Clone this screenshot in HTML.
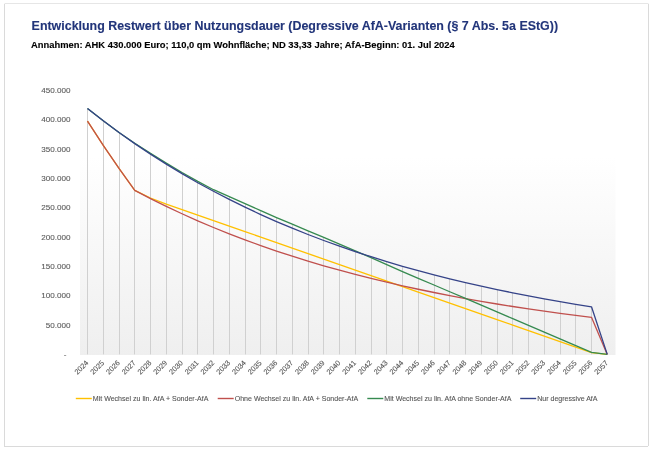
<!DOCTYPE html><html><head><meta charset="utf-8"><style>html,body{margin:0;padding:0;background:#fff;width:652px;height:450px;overflow:hidden}svg{display:block;will-change:transform}text{font-family:"Liberation Sans",sans-serif}</style></head><body>
<svg width="652" height="450" viewBox="0 0 652 450">
<defs><linearGradient id="pg" x1="0" y1="0" x2="0" y2="1"><stop offset="0" stop-color="#ffffff"/><stop offset="0.25" stop-color="#ffffff"/><stop offset="1" stop-color="#efefef"/></linearGradient></defs>
<rect x="0" y="0" width="652" height="450" fill="#fff"/>
<line x1="4.5" y1="3.5" x2="648.5" y2="3.5" stroke="#e6e6e6" stroke-width="1"/>
<line x1="4.5" y1="4" x2="4.5" y2="446.5" stroke="#dadada" stroke-width="1"/>
<line x1="648.5" y1="4" x2="648.5" y2="446" stroke="#dadada" stroke-width="1"/>
<line x1="4" y1="446.5" x2="648" y2="446.5" stroke="#dadada" stroke-width="1"/>
<text x="31.6" y="29.9" font-size="12.43" font-weight="bold" fill="#22357a" stroke="#22357a" stroke-width="0.12">Entwicklung Restwert über Nutzungsdauer (Degressive AfA-Varianten (§ 7 Abs. 5a EStG))</text>
<text x="31.0" y="48.1" font-size="9.4" font-weight="bold" fill="#000" stroke="#000" stroke-width="0.12">Annahmen: AHK 430.000 Euro; 110,0 qm Wohnfläche; ND 33,33 Jahre; AfA-Beginn: 01. Jul 2024</text>
<rect x="80" y="90.5" width="535.5" height="264.5" fill="url(#pg)"/>
<text x="66.4" y="356.90" font-size="8.1" fill="#5a5a5a" stroke="#5a5a5a" stroke-width="0.1" text-anchor="end">-</text>
<text x="70.6" y="327.58" font-size="8.1" fill="#5a5a5a" stroke="#5a5a5a" stroke-width="0.1" text-anchor="end">50.000</text>
<text x="70.6" y="298.26" font-size="8.1" fill="#5a5a5a" stroke="#5a5a5a" stroke-width="0.1" text-anchor="end">100.000</text>
<text x="70.6" y="268.93" font-size="8.1" fill="#5a5a5a" stroke="#5a5a5a" stroke-width="0.1" text-anchor="end">150.000</text>
<text x="70.6" y="239.61" font-size="8.1" fill="#5a5a5a" stroke="#5a5a5a" stroke-width="0.1" text-anchor="end">200.000</text>
<text x="70.6" y="210.29" font-size="8.1" fill="#5a5a5a" stroke="#5a5a5a" stroke-width="0.1" text-anchor="end">250.000</text>
<text x="70.6" y="180.97" font-size="8.1" fill="#5a5a5a" stroke="#5a5a5a" stroke-width="0.1" text-anchor="end">300.000</text>
<text x="70.6" y="151.64" font-size="8.1" fill="#5a5a5a" stroke="#5a5a5a" stroke-width="0.1" text-anchor="end">350.000</text>
<text x="70.6" y="122.32" font-size="8.1" fill="#5a5a5a" stroke="#5a5a5a" stroke-width="0.1" text-anchor="end">400.000</text>
<text x="70.6" y="93.00" font-size="8.1" fill="#5a5a5a" stroke="#5a5a5a" stroke-width="0.1" text-anchor="end">450.000</text>
<line x1="87.50" y1="108.53" x2="87.50" y2="354.4" stroke="#d0d0d0" stroke-width="1"/>
<line x1="103.50" y1="120.83" x2="103.50" y2="354.4" stroke="#d0d0d0" stroke-width="1"/>
<line x1="119.50" y1="132.51" x2="119.50" y2="354.4" stroke="#d0d0d0" stroke-width="1"/>
<line x1="134.50" y1="143.19" x2="134.50" y2="354.4" stroke="#d0d0d0" stroke-width="1"/>
<line x1="150.50" y1="153.38" x2="150.50" y2="354.4" stroke="#d0d0d0" stroke-width="1"/>
<line x1="166.50" y1="163.16" x2="166.50" y2="354.4" stroke="#d0d0d0" stroke-width="1"/>
<line x1="182.50" y1="172.49" x2="182.50" y2="354.4" stroke="#d0d0d0" stroke-width="1"/>
<line x1="197.50" y1="181.35" x2="197.50" y2="354.4" stroke="#d0d0d0" stroke-width="1"/>
<line x1="213.50" y1="189.70" x2="213.50" y2="354.4" stroke="#d0d0d0" stroke-width="1"/>
<line x1="229.50" y1="196.67" x2="229.50" y2="354.4" stroke="#d0d0d0" stroke-width="1"/>
<line x1="245.50" y1="203.64" x2="245.50" y2="354.4" stroke="#d0d0d0" stroke-width="1"/>
<line x1="260.50" y1="210.61" x2="260.50" y2="354.4" stroke="#d0d0d0" stroke-width="1"/>
<line x1="276.50" y1="217.58" x2="276.50" y2="354.4" stroke="#d0d0d0" stroke-width="1"/>
<line x1="292.50" y1="224.22" x2="292.50" y2="354.4" stroke="#d0d0d0" stroke-width="1"/>
<line x1="308.50" y1="230.83" x2="308.50" y2="354.4" stroke="#d0d0d0" stroke-width="1"/>
<line x1="323.50" y1="237.44" x2="323.50" y2="354.4" stroke="#d0d0d0" stroke-width="1"/>
<line x1="339.50" y1="244.11" x2="339.50" y2="354.4" stroke="#d0d0d0" stroke-width="1"/>
<line x1="355.50" y1="250.84" x2="355.50" y2="354.4" stroke="#d0d0d0" stroke-width="1"/>
<line x1="371.50" y1="256.74" x2="371.50" y2="354.4" stroke="#d0d0d0" stroke-width="1"/>
<line x1="386.50" y1="261.62" x2="386.50" y2="354.4" stroke="#d0d0d0" stroke-width="1"/>
<line x1="402.50" y1="266.26" x2="402.50" y2="354.4" stroke="#d0d0d0" stroke-width="1"/>
<line x1="418.50" y1="270.67" x2="418.50" y2="354.4" stroke="#d0d0d0" stroke-width="1"/>
<line x1="434.50" y1="274.85" x2="434.50" y2="354.4" stroke="#d0d0d0" stroke-width="1"/>
<line x1="449.50" y1="278.83" x2="449.50" y2="354.4" stroke="#d0d0d0" stroke-width="1"/>
<line x1="465.50" y1="282.61" x2="465.50" y2="354.4" stroke="#d0d0d0" stroke-width="1"/>
<line x1="481.50" y1="286.20" x2="481.50" y2="354.4" stroke="#d0d0d0" stroke-width="1"/>
<line x1="497.50" y1="289.61" x2="497.50" y2="354.4" stroke="#d0d0d0" stroke-width="1"/>
<line x1="512.50" y1="292.85" x2="512.50" y2="354.4" stroke="#d0d0d0" stroke-width="1"/>
<line x1="528.50" y1="295.93" x2="528.50" y2="354.4" stroke="#d0d0d0" stroke-width="1"/>
<line x1="544.50" y1="298.85" x2="544.50" y2="354.4" stroke="#d0d0d0" stroke-width="1"/>
<line x1="560.50" y1="301.63" x2="560.50" y2="354.4" stroke="#d0d0d0" stroke-width="1"/>
<line x1="575.50" y1="304.27" x2="575.50" y2="354.4" stroke="#d0d0d0" stroke-width="1"/>
<line x1="591.50" y1="306.77" x2="591.50" y2="354.4" stroke="#d0d0d0" stroke-width="1"/>
<polyline points="87.50,121.14 103.25,145.41 119.00,168.47 134.75,190.38 150.50,197.99 166.25,204.08 182.00,209.58 197.75,215.08 213.50,220.58 229.25,226.08 245.00,231.58 260.75,237.08 276.50,242.58 292.25,248.08 308.00,253.58 323.75,259.08 339.50,264.58 355.25,270.08 371.00,275.58 386.75,281.08 402.50,286.58 418.25,292.08 434.00,297.58 449.75,303.08 465.50,308.58 481.25,314.08 497.00,319.58 512.75,325.08 528.50,330.58 544.25,336.08 560.00,341.58 575.75,347.08 591.50,352.58 607.25,354.40" fill="none" stroke="#ffc000" stroke-width="1.3" stroke-linejoin="round"/>
<polyline points="87.50,121.14 103.25,145.41 119.00,168.47 134.75,190.38 150.50,198.58 166.25,206.37 182.00,213.77 197.75,220.80 213.50,227.48 229.25,233.83 245.00,239.86 260.75,245.58 276.50,251.02 292.25,256.19 308.00,261.10 323.75,265.77 339.50,270.20 355.25,274.41 371.00,278.41 386.75,282.21 402.50,285.82 418.25,289.25 434.00,292.50 449.75,295.60 465.50,298.54 481.25,301.33 497.00,303.99 512.75,306.51 528.50,308.90 544.25,311.18 560.00,313.34 575.75,315.39 591.50,317.34 607.25,354.40" fill="none" stroke="#c0504d" stroke-width="1.3" stroke-linejoin="round"/>
<polyline points="87.50,108.53 103.25,120.83 119.00,132.51 134.75,143.19 150.50,153.38 166.25,163.16 182.00,172.49 197.75,181.35 213.50,189.70 229.25,196.67 245.00,203.64 260.75,210.61 276.50,217.58 292.25,224.22 308.00,230.83 323.75,237.44 339.50,244.11 355.25,250.84 371.00,257.69 386.75,264.59 402.50,271.56 418.25,278.28 434.00,285.01 449.75,291.74 465.50,298.47 481.25,305.20 497.00,311.93 512.75,318.66 528.50,325.39 544.25,332.12 560.00,338.84 575.75,345.57 591.50,352.30 607.25,354.40" fill="none" stroke="#368a50" stroke-width="1.3" stroke-linejoin="round"/>
<polyline points="87.50,108.53 103.25,120.83 119.00,132.51 134.75,143.60 150.50,154.14 166.25,164.15 182.00,173.67 197.75,182.70 213.50,191.29 229.25,199.44 245.00,207.19 260.75,214.55 276.50,221.54 292.25,228.19 308.00,234.50 323.75,240.49 339.50,246.19 355.25,251.60 371.00,256.74 386.75,261.62 402.50,266.26 418.25,270.67 434.00,274.85 449.75,278.83 465.50,282.61 481.25,286.20 497.00,289.61 512.75,292.85 528.50,295.93 544.25,298.85 560.00,301.63 575.75,304.27 591.50,306.77 607.25,354.40" fill="none" stroke="#354388" stroke-width="1.3" stroke-linejoin="round"/>
<text transform="translate(89.00,363.40) rotate(-45)" font-size="7.35" fill="#555" stroke="#555" stroke-width="0.1" text-anchor="end">2024</text>
<text transform="translate(104.75,363.40) rotate(-45)" font-size="7.35" fill="#555" stroke="#555" stroke-width="0.1" text-anchor="end">2025</text>
<text transform="translate(120.50,363.40) rotate(-45)" font-size="7.35" fill="#555" stroke="#555" stroke-width="0.1" text-anchor="end">2026</text>
<text transform="translate(136.25,363.40) rotate(-45)" font-size="7.35" fill="#555" stroke="#555" stroke-width="0.1" text-anchor="end">2027</text>
<text transform="translate(152.00,363.40) rotate(-45)" font-size="7.35" fill="#555" stroke="#555" stroke-width="0.1" text-anchor="end">2028</text>
<text transform="translate(167.75,363.40) rotate(-45)" font-size="7.35" fill="#555" stroke="#555" stroke-width="0.1" text-anchor="end">2029</text>
<text transform="translate(183.50,363.40) rotate(-45)" font-size="7.35" fill="#555" stroke="#555" stroke-width="0.1" text-anchor="end">2030</text>
<text transform="translate(199.25,363.40) rotate(-45)" font-size="7.35" fill="#555" stroke="#555" stroke-width="0.1" text-anchor="end">2031</text>
<text transform="translate(215.00,363.40) rotate(-45)" font-size="7.35" fill="#555" stroke="#555" stroke-width="0.1" text-anchor="end">2032</text>
<text transform="translate(230.75,363.40) rotate(-45)" font-size="7.35" fill="#555" stroke="#555" stroke-width="0.1" text-anchor="end">2033</text>
<text transform="translate(246.50,363.40) rotate(-45)" font-size="7.35" fill="#555" stroke="#555" stroke-width="0.1" text-anchor="end">2034</text>
<text transform="translate(262.25,363.40) rotate(-45)" font-size="7.35" fill="#555" stroke="#555" stroke-width="0.1" text-anchor="end">2035</text>
<text transform="translate(278.00,363.40) rotate(-45)" font-size="7.35" fill="#555" stroke="#555" stroke-width="0.1" text-anchor="end">2036</text>
<text transform="translate(293.75,363.40) rotate(-45)" font-size="7.35" fill="#555" stroke="#555" stroke-width="0.1" text-anchor="end">2037</text>
<text transform="translate(309.50,363.40) rotate(-45)" font-size="7.35" fill="#555" stroke="#555" stroke-width="0.1" text-anchor="end">2038</text>
<text transform="translate(325.25,363.40) rotate(-45)" font-size="7.35" fill="#555" stroke="#555" stroke-width="0.1" text-anchor="end">2039</text>
<text transform="translate(341.00,363.40) rotate(-45)" font-size="7.35" fill="#555" stroke="#555" stroke-width="0.1" text-anchor="end">2040</text>
<text transform="translate(356.75,363.40) rotate(-45)" font-size="7.35" fill="#555" stroke="#555" stroke-width="0.1" text-anchor="end">2041</text>
<text transform="translate(372.50,363.40) rotate(-45)" font-size="7.35" fill="#555" stroke="#555" stroke-width="0.1" text-anchor="end">2042</text>
<text transform="translate(388.25,363.40) rotate(-45)" font-size="7.35" fill="#555" stroke="#555" stroke-width="0.1" text-anchor="end">2043</text>
<text transform="translate(404.00,363.40) rotate(-45)" font-size="7.35" fill="#555" stroke="#555" stroke-width="0.1" text-anchor="end">2044</text>
<text transform="translate(419.75,363.40) rotate(-45)" font-size="7.35" fill="#555" stroke="#555" stroke-width="0.1" text-anchor="end">2045</text>
<text transform="translate(435.50,363.40) rotate(-45)" font-size="7.35" fill="#555" stroke="#555" stroke-width="0.1" text-anchor="end">2046</text>
<text transform="translate(451.25,363.40) rotate(-45)" font-size="7.35" fill="#555" stroke="#555" stroke-width="0.1" text-anchor="end">2047</text>
<text transform="translate(467.00,363.40) rotate(-45)" font-size="7.35" fill="#555" stroke="#555" stroke-width="0.1" text-anchor="end">2048</text>
<text transform="translate(482.75,363.40) rotate(-45)" font-size="7.35" fill="#555" stroke="#555" stroke-width="0.1" text-anchor="end">2049</text>
<text transform="translate(498.50,363.40) rotate(-45)" font-size="7.35" fill="#555" stroke="#555" stroke-width="0.1" text-anchor="end">2050</text>
<text transform="translate(514.25,363.40) rotate(-45)" font-size="7.35" fill="#555" stroke="#555" stroke-width="0.1" text-anchor="end">2051</text>
<text transform="translate(530.00,363.40) rotate(-45)" font-size="7.35" fill="#555" stroke="#555" stroke-width="0.1" text-anchor="end">2052</text>
<text transform="translate(545.75,363.40) rotate(-45)" font-size="7.35" fill="#555" stroke="#555" stroke-width="0.1" text-anchor="end">2053</text>
<text transform="translate(561.50,363.40) rotate(-45)" font-size="7.35" fill="#555" stroke="#555" stroke-width="0.1" text-anchor="end">2054</text>
<text transform="translate(577.25,363.40) rotate(-45)" font-size="7.35" fill="#555" stroke="#555" stroke-width="0.1" text-anchor="end">2055</text>
<text transform="translate(593.00,363.40) rotate(-45)" font-size="7.35" fill="#555" stroke="#555" stroke-width="0.1" text-anchor="end">2056</text>
<text transform="translate(608.75,363.40) rotate(-45)" font-size="7.35" fill="#555" stroke="#555" stroke-width="0.1" text-anchor="end">2057</text>
<line x1="75.8" y1="398.5" x2="91.8" y2="398.5" stroke="#ffc000" stroke-width="1.4"/>
<text x="92.8" y="400.9" font-size="7.05" fill="#555" stroke="#555" stroke-width="0.1">Mit Wechsel zu lin. AfA + Sonder-AfA</text>
<line x1="217.7" y1="398.5" x2="233.7" y2="398.5" stroke="#c0504d" stroke-width="1.4"/>
<text x="234.7" y="400.9" font-size="7.05" fill="#555" stroke="#555" stroke-width="0.1">Ohne Wechsel zu lin. AfA + Sonder-AfA</text>
<line x1="367.3" y1="398.5" x2="383.3" y2="398.5" stroke="#368a50" stroke-width="1.4"/>
<text x="384.3" y="400.9" font-size="7.05" fill="#555" stroke="#555" stroke-width="0.1">Mit Wechsel zu lin. AfA ohne Sonder-AfA</text>
<line x1="520.2" y1="398.5" x2="536.2" y2="398.5" stroke="#354388" stroke-width="1.4"/>
<text x="537.2" y="400.9" font-size="7.05" fill="#555" stroke="#555" stroke-width="0.1">Nur degressive AfA</text>
</svg></body></html>
